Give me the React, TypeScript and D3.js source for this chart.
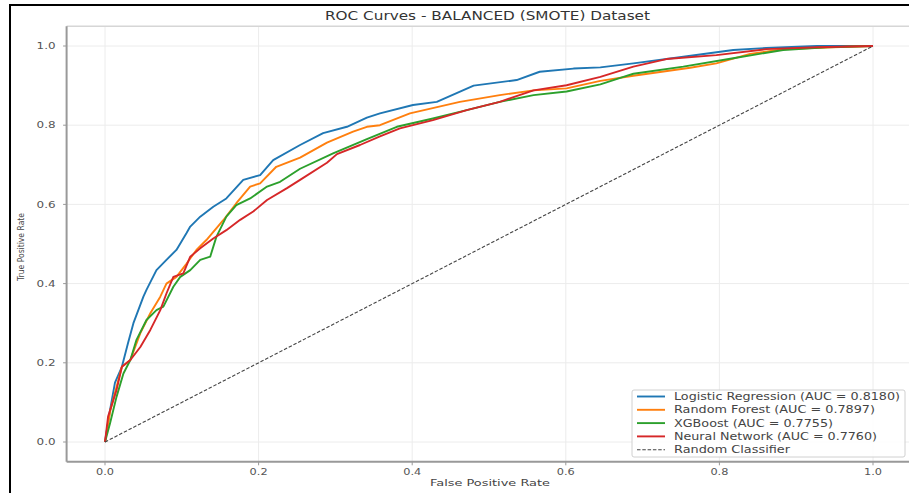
import React from 'react';
import * as d3 from 'd3';

// ROC points: [false positive rate, true positive rate]
const logisticRoc: [number, number][] = [
  [0, 0], [0.0065, 0.08], [0.013, 0.15], [0.022, 0.19], [0.03, 0.25], [0.037, 0.3],
  [0.05, 0.367], [0.054, 0.384], [0.067, 0.434], [0.08, 0.46], [0.093, 0.485],
  [0.106, 0.527], [0.111, 0.544], [0.124, 0.569], [0.141, 0.594], [0.158, 0.615],
  [0.18, 0.662], [0.202, 0.674], [0.219, 0.712], [0.254, 0.75], [0.284, 0.78],
  [0.315, 0.796], [0.341, 0.819], [0.358, 0.83], [0.401, 0.851], [0.432, 0.859],
  [0.48, 0.9], [0.536, 0.914], [0.566, 0.935], [0.61, 0.943], [0.645, 0.946],
  [0.688, 0.956], [0.753, 0.973], [0.818, 0.99], [0.861, 0.995], [0.927, 1.0], [1, 1],
];

const forestRoc: [number, number][] = [
  [0, 0], [0.007, 0.08], [0.022, 0.19], [0.033, 0.207], [0.046, 0.275], [0.059, 0.325],
  [0.072, 0.367], [0.08, 0.4], [0.093, 0.417], [0.106, 0.45], [0.119, 0.485],
  [0.132, 0.51], [0.154, 0.56], [0.171, 0.603], [0.189, 0.645], [0.202, 0.653],
  [0.223, 0.695], [0.254, 0.718], [0.289, 0.756], [0.323, 0.784], [0.341, 0.796],
  [0.358, 0.8], [0.397, 0.83], [0.462, 0.859], [0.514, 0.876], [0.558, 0.888],
  [0.601, 0.893], [0.645, 0.912], [0.688, 0.925], [0.762, 0.945], [0.796, 0.956],
  [0.84, 0.98], [0.883, 0.992], [0.948, 0.997], [1, 1],
];

const xgbRoc: [number, number][] = [
  [0, 0], [0.0065, 0.047], [0.015, 0.114], [0.024, 0.173], [0.033, 0.207], [0.041, 0.258],
  [0.054, 0.308], [0.067, 0.333], [0.076, 0.342], [0.089, 0.392], [0.098, 0.417],
  [0.111, 0.434], [0.124, 0.46], [0.137, 0.468], [0.145, 0.518], [0.158, 0.569],
  [0.171, 0.598], [0.189, 0.615], [0.211, 0.645], [0.228, 0.657], [0.254, 0.69],
  [0.297, 0.729], [0.341, 0.765], [0.38, 0.796], [0.427, 0.817], [0.471, 0.838],
  [0.514, 0.859], [0.558, 0.876], [0.601, 0.885], [0.645, 0.903], [0.675, 0.922],
  [0.688, 0.93], [0.753, 0.948], [0.818, 0.969], [0.883, 0.99], [0.939, 0.997], [1, 1],
];

const neuralRoc: [number, number][] = [
  [0, 0], [0.004, 0.064], [0.015, 0.131], [0.022, 0.19], [0.033, 0.207], [0.046, 0.24],
  [0.059, 0.283], [0.072, 0.333], [0.08, 0.375], [0.089, 0.417], [0.102, 0.426],
  [0.111, 0.468], [0.124, 0.489], [0.141, 0.514], [0.158, 0.535], [0.176, 0.561],
  [0.193, 0.582], [0.211, 0.611], [0.237, 0.641], [0.254, 0.662], [0.289, 0.705],
  [0.302, 0.727], [0.332, 0.75], [0.358, 0.772], [0.384, 0.792], [0.427, 0.813],
  [0.471, 0.838], [0.514, 0.859], [0.558, 0.888], [0.601, 0.901], [0.645, 0.922],
  [0.688, 0.948], [0.731, 0.967], [0.796, 0.977], [0.861, 0.992], [0.927, 0.997], [1, 1],
];

const seriesNames = [
  'Logistic Regression (AUC = 0.8180)',
  'Random Forest (AUC = 0.7897)',
  'XGBoost (AUC = 0.7755)',
  'Neural Network (AUC = 0.7760)',
  'Random Classifier',
];
const seriesColors = ['#1f77b4', '#ff7f0e', '#2ca02c', '#d62728', '#444'];
// widths the legend labels take in the (horizontally stretched) picture
const legendWidths = [226, 201, 159, 203, 116];
const tickValues = [0, 0.2, 0.4, 0.6, 0.8, 1.0];

const W = 909;
const H = 493;
const FONT = '"DejaVu Sans", sans-serif';

export default function App() {
  const x = d3.scaleLinear().domain([-0.05, 1.05]).range([66.6, 911.4]);
  const y = d3.scaleLinear().domain([-0.05, 1.05]).range([461.8, 26.2]);

  const line = d3.line<[number, number]>()
    .x(d => x(d[0]))
    .y(d => y(d[1]));

  const allSeries = [logisticRoc, forestRoc, xgbRoc, neuralRoc];

  const legendX = 632;
  const legendY = 390;
  const rowH = 13.3;

  return (
    <svg
      width={W}
      height={H}
      style={{ position: 'absolute', top: 0, left: 0, background: '#fff', display: 'block' }}
      fontFamily={FONT}
    >
      <rect x={0} y={0} width={W} height={H} fill="#fff" />

      {/* grid */}
      {tickValues.map(t => (
        <g key={'g' + t}>
          <line x1={x(t)} x2={x(t)} y1={y(1.05)} y2={y(-0.05)} stroke="#ececec" strokeWidth={1} />
          <line x1={x(-0.05)} x2={x(1.05)} y1={y(t)} y2={y(t)} stroke="#ececec" strokeWidth={1} />
        </g>
      ))}

      {/* curves */}
      {allSeries.map((s, i) => (
        <path key={i} d={line(s) || ''} fill="none" stroke={seriesColors[i]} strokeWidth={1.9} strokeLinejoin="round" />
      ))}

      {/* random classifier */}
      <path
        d={line([[0, 0], [1, 1]]) || ''}
        fill="none"
        stroke="#444"
        strokeWidth={1.1}
        strokeDasharray="3.5,1.8"
      />

      {/* spines */}
      <line x1={x(-0.05)} x2={x(1.05)} y1={y(1.05)} y2={y(1.05)} stroke="#d6d6d6" strokeWidth={1.5} />
      <line x1={x(-0.05)} x2={x(-0.05)} y1={y(1.05)} y2={y(-0.05)} stroke="#999" strokeWidth={2} />
      <line x1={x(-0.05)} x2={x(1.05)} y1={y(-0.05)} y2={y(-0.05)} stroke="#999" strokeWidth={2} />

      {/* ticks */}
      {tickValues.map(t => (
        <g key={'t' + t} fontSize={9} fill="#555">
          <line x1={x(-0.05) - 3.5} x2={x(-0.05)} y1={y(t)} y2={y(t)} stroke="#999" strokeWidth={1} />
          <text x={x(-0.05) - 11} y={y(t)} dy="0.35em" textAnchor="end" textLength={19} lengthAdjust="spacingAndGlyphs">
            {t.toFixed(1)}
          </text>
          <line x1={x(t)} x2={x(t)} y1={y(-0.05)} y2={y(-0.05) + 3.5} stroke="#999" strokeWidth={1} />
          <text x={x(t) - 9} y={y(-0.05) + 13} textLength={18} lengthAdjust="spacingAndGlyphs">
            {t.toFixed(1)}
          </text>
        </g>
      ))}

      {/* labels */}
      <text x={325} y={20} fontSize={11.5} fill="#333" textLength={325} lengthAdjust="spacingAndGlyphs">
        ROC Curves - BALANCED (SMOTE) Dataset
      </text>
      <text x={430} y={486} fontSize={9} fill="#444" textLength={120} lengthAdjust="spacingAndGlyphs">
        False Positive Rate
      </text>
      <text
        transform="translate(24,247) rotate(-90)"
        textAnchor="middle"
        fontSize={8.5}
        fill="#444"
        textLength={68}
        lengthAdjust="spacingAndGlyphs"
      >
        True Positive Rate
      </text>

      {/* legend */}
      <rect x={legendX} y={legendY} width={273} height={67} rx={2} fill="#fff" fillOpacity={0.85} stroke="#d0d0d0" strokeWidth={1} />
      {seriesNames.map((name, i) => {
        const cy = legendY + 6.5 + i * rowH;
        const isDiag = i === 4;
        return (
          <g key={name}>
            <line
              x1={legendX + 5}
              x2={legendX + 33}
              y1={cy}
              y2={cy}
              stroke={seriesColors[i]}
              strokeWidth={isDiag ? 1.1 : 1.9}
              strokeDasharray={isDiag ? '3.5,1.8' : undefined}
            />
            <text
              x={legendX + 42}
              y={cy}
              dy="0.35em"
              fontSize={10}
              fill="#444"
              textLength={legendWidths[i]}
              lengthAdjust="spacingAndGlyphs"
            >
              {name}
            </text>
          </g>
        );
      })}

      {/* outer frame */}
      <line x1={9} x2={W} y1={5} y2={5} stroke="#000" strokeWidth={2} />
      <line x1={10} x2={10} y1={4} y2={H} stroke="#000" strokeWidth={2} />
    </svg>
  );
}
